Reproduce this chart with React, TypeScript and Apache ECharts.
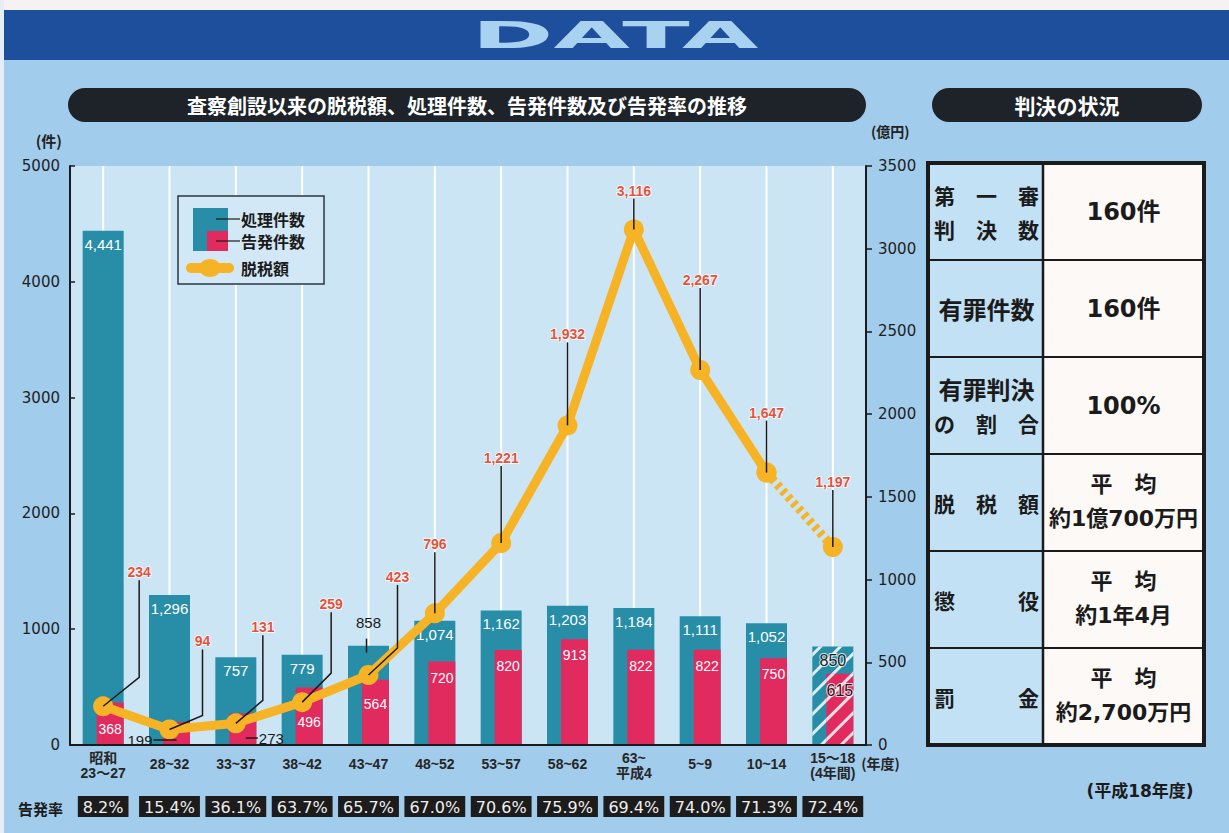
import React, { useEffect, useRef } from "react";
import * as echarts from "echarts";

// ---------- data ----------
const categories = ["昭和\n23〜27", "28~32", "33~37", "38~42", "43~47", "48~52", "53~57", "58~62", "63~\n平成4", "5~9", "10~14", "15〜18\n(4年間)"];
const processed = [4441, 1296, 757, 779, 858, 1074, 1162, 1203, 1184, 1111, 1052, 850];
const prosecuted = [368, 199, 273, 496, 564, 720, 820, 913, 822, 822, 750, 615];
const evasion = [234, 94, 131, 259, 423, 796, 1221, 1932, 3116, 2267, 1647, 1197];
const prosecutionRate = ["8.2%", "15.4%", "36.1%", "63.7%", "65.7%", "67.0%", "70.6%", "75.9%", "69.4%", "74.0%", "71.3%", "72.4%"];
const seriesNames = ["処理件数", "告発件数", "脱税額"];
const leftAxis = { min: 0, max: 5000, interval: 1000, name: "(件)" };
const rightAxis = { min: 0, max: 3500, interval: 500, name: "(億円)" };
const verdictHeads = [["第　一　審", "判　決　数"], ["有罪件数"], ["有罪判決", "の　割　合"], ["脱　税　額"], ["懲　　　役"], ["罰　　　金"]];
const verdictValues = [["160件"], ["160件"], ["100%"], ["平　均", "約1億700万円"], ["平　均", "約1年4月"], ["平　均", "約2,700万円"]];
const bannerText = "DATA";
const chartTitle = "査察創設以来の脱税額、処理件数、告発件数及び告発率の推移";
const tableTitle = "判決の状況";
const tableNote = "(平成18年度)";
const rateTitle = "告発率";
const yearUnit = "(年度)";

// ---------- styles / layout (not data) ----------
// label offset relative to point: [dx, dy, elbowDy]
const evasionCallout = [
  [36, -134, -29], [33, -88, -14], [27, -96, -23], [29, -98, -29], [29, -98, -27],
  [0, -69, 0], [0, -85, 0], [0, -91, 0], [0, -39, 0], [0, -90, 0], [0, -60, 0], [0, -65, 0],
];
const FONT = "'Liberation Sans', 'Noto Sans CJK JP', sans-serif";
const CJK = "'Noto Sans CJK JP', sans-serif";
const ROUND = "'DejaVu Sans', 'Noto Sans CJK JP', sans-serif";
const TEAL = "#288ea8";
const RED = "#e12a5e";
const YELLOW = "#f6b326";
const PAGE_BG = "#a2cceb";
const PLOT_BG = "#cce5f5";
const INK = "#1b1b1b";

const fmt = (v: number) => v.toLocaleString("en-US");

const hatch = {
  symbol: "rect",
  symbolSize: 1,
  color: "rgba(255,255,255,0.85)",
  dashArrayX: [1, 0],
  dashArrayY: [3, 11],
  rotation: -Math.PI / 4,
};

function buildOption() {
  const last = categories.length - 1;

  const tealData = processed.map((v, i) => {
    if (i === 4) return { value: v, label: { position: "top", distance: 16, color: INK } };
    if (i === last)
      return { value: v, itemStyle: { decal: hatch }, label: { color: INK, fontSize: 16, textBorderColor: "rgba(255,255,255,0.8)", textBorderWidth: 2 } };
    return v;
  });
  const redDist: Record<number, number> = { 0: 20, 3: 27, 4: 17 };
  const redData = prosecuted.map((v, i) => {
    if (i === 1 || i === 2) return { value: v, label: { show: false } };
    if (i === last)
      return { value: v, itemStyle: { decal: hatch }, label: { color: INK, fontSize: 16, textBorderColor: "rgba(255,255,255,0.8)", textBorderWidth: 2 } };
    if (redDist[i] !== undefined) return { value: v, label: { distance: redDist[i] } };
    return v;
  });

  // table
  const tX = 928, tY = 163, colL = 115, colR = 161, rowH = 97;
  const tW = colL + colR;
  const tH = rowH * verdictHeads.length;
  const table: any[] = [
    { type: "rect", shape: { x: tX, y: tY, width: colL, height: tH }, style: { fill: "#c3e1f4" } },
    { type: "rect", shape: { x: tX + colL, y: tY, width: colR, height: tH }, style: { fill: "#fcf9f6" } },
  ];
  verdictHeads.forEach((lines, r) => {
    const cy = tY + rowH * r + rowH / 2;
    if (r > 0) table.push({ type: "line", shape: { x1: tX, y1: tY + rowH * r, x2: tX + tW, y2: tY + rowH * r }, style: { stroke: INK, lineWidth: 2.2 } });
    lines.forEach((ln, k) => {
      const y = lines.length === 1 ? cy : cy + (k === 0 ? -17 : 17);
      const size = [...ln].length >= 5 ? 21 : 24;
      table.push({ type: "text", x: tX + colL / 2 + 1, y, style: { text: ln, font: `bold ${size}px ${CJK}`, fill: INK, align: "center", verticalAlign: "middle" } });
    });
    const vals = verdictValues[r];
    vals.forEach((ln, k) => {
      const y = vals.length === 1 ? cy : cy + (k === 0 ? -18 : 16);
      const size = vals.length === 1 ? 24 : 22;
      table.push({ type: "text", x: tX + colL + colR / 2, y, style: { text: ln, font: `bold ${size}px ${ROUND}`, fill: INK, align: "center", verticalAlign: "middle" } });
    });
  });
  table.push({ type: "line", shape: { x1: tX + colL, y1: tY, x2: tX + colL, y2: tY + tH }, style: { stroke: INK, lineWidth: 2.5 } });
  table.push({ type: "rect", shape: { x: tX, y: tY, width: tW, height: tH }, style: { fill: "none", stroke: INK, lineWidth: 4 } });

  const legend: any[] = [
    { type: "rect", shape: { x: 178, y: 196, width: 146, height: 88 }, style: { fill: "#d2e8f6", stroke: "#2a3640", lineWidth: 1.5 } },
    { type: "rect", shape: { x: 193, y: 208, width: 35, height: 43 }, style: { fill: TEAL } },
    { type: "rect", shape: { x: 207, y: 231, width: 21, height: 20 }, style: { fill: RED } },
    { type: "line", shape: { x1: 216, y1: 219, x2: 240, y2: 219 }, style: { stroke: INK, lineWidth: 1.2 } },
    { type: "line", shape: { x1: 216, y1: 241, x2: 240, y2: 241 }, style: { stroke: INK, lineWidth: 1.2 } },
    { type: "text", x: 241, y: 219, style: { text: seriesNames[0], font: `bold 16px ${CJK}`, fill: INK, verticalAlign: "middle" } },
    { type: "text", x: 241, y: 241, style: { text: seriesNames[1], font: `bold 16px ${CJK}`, fill: INK, verticalAlign: "middle" } },
    { type: "line", shape: { x1: 191, y1: 268, x2: 229, y2: 268 }, style: { stroke: YELLOW, lineWidth: 10, lineCap: "round" } },
    { type: "ellipse", shape: { cx: 210, cy: 268, rx: 11, ry: 9 }, style: { fill: YELLOW } },
    { type: "text", x: 241, y: 268, style: { text: seriesNames[2], font: `bold 16px ${CJK}`, fill: INK, verticalAlign: "middle" } },
  ].map((e) => ({ ...e, z: 20 }));

  const graphic: any[] = [
    { type: "rect", z: 0, shape: { x: 0, y: 0, width: 1229, height: 10 }, style: { fill: "#f6f2f4" } },
    { type: "rect", z: 0, shape: { x: 0, y: 0, width: 4, height: 833 }, style: { fill: "#e4eef4" } },
    { type: "rect", z: 0, shape: { x: 4, y: 10, width: 1225, height: 50 }, style: { fill: "#1e4f9d" } },
    {
      type: "text", z: 1, x: 615, y: 35, scaleX: 2.6,
      style: { text: bannerText, font: `bold 38px 'DejaVu Sans'`, fill: "#a9d1f0", align: "center", verticalAlign: "middle", shadowColor: "rgba(0,10,50,0.7)", shadowOffsetX: 2, shadowOffsetY: 2, shadowBlur: 1 },
    },
    { type: "rect", z: 1, shape: { x: 68, y: 88, width: 798, height: 34, r: 17 }, style: { fill: "#1d2329" } },
    { type: "text", z: 2, x: 467, y: 105, style: { text: chartTitle, font: `bold 20px ${CJK}`, fill: "#ffffff", align: "center", verticalAlign: "middle" } },
    { type: "rect", z: 1, shape: { x: 932, y: 88, width: 270, height: 34, r: 17 }, style: { fill: "#1d2329" } },
    { type: "text", z: 2, x: 1067, y: 105, style: { text: tableTitle, font: `bold 21px ${CJK}`, fill: "#ffffff", align: "center", verticalAlign: "middle" } },
    { type: "text", z: 2, x: 18, y: 808, style: { text: rateTitle, font: `bold 15px ${CJK}`, fill: INK, verticalAlign: "middle" } },
    { type: "text", z: 2, x: 1140, y: 791, style: { text: tableNote, font: `bold 17px ${ROUND}`, fill: INK, align: "center", verticalAlign: "middle" } },
    ...table.map((e) => ({ ...e, z: 5 })),
    ...legend,
  ];

  return {
    animation: false,
    backgroundColor: PAGE_BG,
    textStyle: { fontFamily: FONT },
    grid: { left: 70, right: 363, top: 166, bottom: 88, show: true, backgroundColor: PLOT_BG, borderWidth: 0 },
    xAxis: [
      {
        type: "category",
        data: categories.map((c) => (c.includes("\n") ? c : { value: c, textStyle: { padding: [6, 0, 0, 0] } })),
        axisLine: { lineStyle: { color: INK, width: 2 } },
        axisTick: { show: false },
        axisLabel: { color: "#262626", fontSize: 14, fontWeight: "bold", lineHeight: 15, margin: 5, interval: 0, fontFamily: FONT },
        name: yearUnit,
        nameLocation: "end",
        nameGap: -12,
        nameTextStyle: { color: "#262626", fontSize: 14, fontWeight: "bold", fontFamily: CJK, align: "left", verticalAlign: "top", padding: [11, 0, 0, 0] },
        splitLine: { show: false },
        z: 6,
      },
      {
        type: "category",
        data: prosecutionRate,
        position: "bottom",
        offset: 41,
        axisLine: { lineStyle: { color: "#2a2a2a", width: 1.5 } },
        axisTick: { show: false },
        axisLabel: { color: "#eeeeee", fontSize: 16, fontFamily: ROUND, backgroundColor: "#1c1c1c", padding: [3, 5, 2, 5], margin: 10, interval: 0 },
      },
    ],
    yAxis: [
      {
        type: "value",
        min: leftAxis.min, max: leftAxis.max, interval: leftAxis.interval,
        position: "left",
        axisLine: { show: true, lineStyle: { color: INK, width: 2 } },
        axisTick: { show: true, inside: true, length: 5, lineStyle: { color: INK, width: 1.5 } },
        splitLine: { show: false },
        axisLabel: { color: "#1e1e1e", fontSize: 15, fontFamily: "'DejaVu Sans'", margin: 10, formatter: (v: number) => String(v) },
        name: leftAxis.name,
        nameLocation: "end",
        nameGap: 18,
        nameTextStyle: { color: "#222", fontSize: 15, fontWeight: "bold", fontFamily: CJK, align: "right", padding: [0, 8, 0, 0] },
        z: 6,
      },
      {
        type: "value",
        min: rightAxis.min, max: rightAxis.max, interval: rightAxis.interval,
        position: "right",
        axisLine: { show: true, lineStyle: { color: INK, width: 2 } },
        axisTick: { show: true, inside: false, length: 6, lineStyle: { color: INK, width: 1.5 } },
        splitLine: { show: false },
        axisLabel: { color: "#1e1e1e", fontSize: 15, fontFamily: "'DejaVu Sans'", margin: 12, formatter: (v: number) => String(v) },
        name: rightAxis.name,
        nameLocation: "end",
        nameGap: 28,
        nameTextStyle: { color: "#222", fontSize: 14, fontWeight: "bold", fontFamily: CJK, align: "left", padding: [0, 0, 0, 5] },
        z: 6,
      },
    ],
    series: [
      {
        type: "custom",
        name: "grid-lines",
        silent: true,
        z: 1,
        data: categories.map((_, i) => [i, 0]),
        renderItem: (params: any, api: any) => {
          const p = api.coord([api.value(0), 0]);
          const cs = params.coordSys;
          return { type: "line", shape: { x1: p[0], y1: cs.y, x2: p[0], y2: cs.y + cs.height }, style: { stroke: "#ffffff", lineWidth: 2 } };
        },
      },
      {
        type: "bar",
        name: seriesNames[0],
        data: tealData,
        barWidth: 41,
        barGap: "-65.85%",
        z: 2,
        itemStyle: { color: TEAL },
        label: { show: true, position: "insideTop", distance: 6, color: "#ffffff", fontSize: 15, fontFamily: FONT, formatter: (p: any) => fmt(p.value) },
      },
      {
        type: "bar",
        name: seriesNames[1],
        data: redData,
        barWidth: 27,
        barGap: "-65.85%",
        z: 2,
        itemStyle: { color: RED },
        label: { show: true, position: "insideTop", distance: 9, color: "#ffffff", fontSize: 14, fontFamily: FONT, formatter: (p: any) => fmt(p.value) },
      },
      {
        type: "line",
        name: seriesNames[2],
        yAxisIndex: 1,
        z: 3,
        data: evasion.map((v, i) => (i <= last - 1 ? v : "-")),
        symbol: "circle",
        symbolSize: 20,
        itemStyle: { color: YELLOW },
        lineStyle: { color: YELLOW, width: 9 },
      },
      {
        type: "line",
        name: seriesNames[2] + "(dashed)",
        yAxisIndex: 1,
        z: 3,
        data: evasion.map((v, i) => (i >= last - 1 ? v : "-")),
        symbol: "circle",
        symbolSize: 20,
        itemStyle: { color: YELLOW },
        lineStyle: { color: YELLOW, width: 9, type: [4, 4], cap: "butt" },
      },
      {
        type: "custom",
        name: "evasion-labels",
        yAxisIndex: 1,
        z: 5,
        silent: true,
        data: evasion.map((v, i) => [i, v]),
        renderItem: (params: any, api: any) => {
          const v = api.value(1);
          const p = api.coord([api.value(0), v]);
          const [dx, dy, ey] = evasionCallout[params.dataIndex];
          const lx = p[0] + dx;
          const ly = p[1] + dy;
          const pts = dx === 0 ? [[lx, ly + 8], [p[0], p[1]]] : [[lx, ly + 8], [lx, p[1] + ey], [p[0], p[1]]];
          return {
            type: "group",
            children: [
              { type: "polyline", shape: { points: pts }, style: { stroke: INK, lineWidth: 1.5, fill: "none" } },
              { type: "text", x: lx, y: ly, style: { text: fmt(v), fill: "#e4523c", stroke: "#ffffff", lineWidth: 1.5, font: `bold 14px ${FONT}`, align: "center", verticalAlign: "middle" } },
            ],
          };
        },
      },
      {
        type: "custom",
        name: "bar-leaders",
        z: 5,
        silent: true,
        data: [[4, processed[4]], [1, prosecuted[1]], [2, prosecuted[2]]],
        renderItem: (params: any, api: any) => {
          const v = api.value(1);
          const p = api.coord([api.value(0), v]);
          const base = api.coord([api.value(0), 0]);
          const k = params.dataIndex;
          if (k === 0) {
            return { type: "line", shape: { x1: p[0] - 2, y1: p[1] - 7, x2: p[0] - 2, y2: p[1] + 7 }, style: { stroke: INK, lineWidth: 1.5 } };
          }
          if (k === 1) {
            const y = base[1] - 5;
            return {
              type: "group",
              children: [
                { type: "line", shape: { x1: p[0] - 16, y1: y, x2: p[0] + 7, y2: y }, style: { stroke: INK, lineWidth: 1.5 } },
                { type: "text", x: p[0] - 17, y, style: { text: fmt(v), fill: INK, font: `15px ${FONT}`, align: "right", verticalAlign: "middle" } },
              ],
            };
          }
          const y = base[1] - 7;
          return {
            type: "group",
            children: [
              { type: "line", shape: { x1: p[0] + 10, y1: y, x2: p[0] + 22, y2: y }, style: { stroke: INK, lineWidth: 1.5 } },
              { type: "text", x: p[0] + 23, y, style: { text: fmt(v), fill: INK, font: `15px ${FONT}`, align: "left", verticalAlign: "middle" } },
            ],
          };
        },
      },
    ],
    graphic,
  };
}

export default function App() {
  const ref = useRef<HTMLDivElement>(null);
  useEffect(() => {
    document.body.style.margin = "0";
    const chart = echarts.init(ref.current!, undefined, { renderer: "svg" });
    chart.setOption(buildOption() as any);
    return () => chart.dispose();
  }, []);
  return <div ref={ref} style={{ width: 1229, height: 833 }} />;
}
